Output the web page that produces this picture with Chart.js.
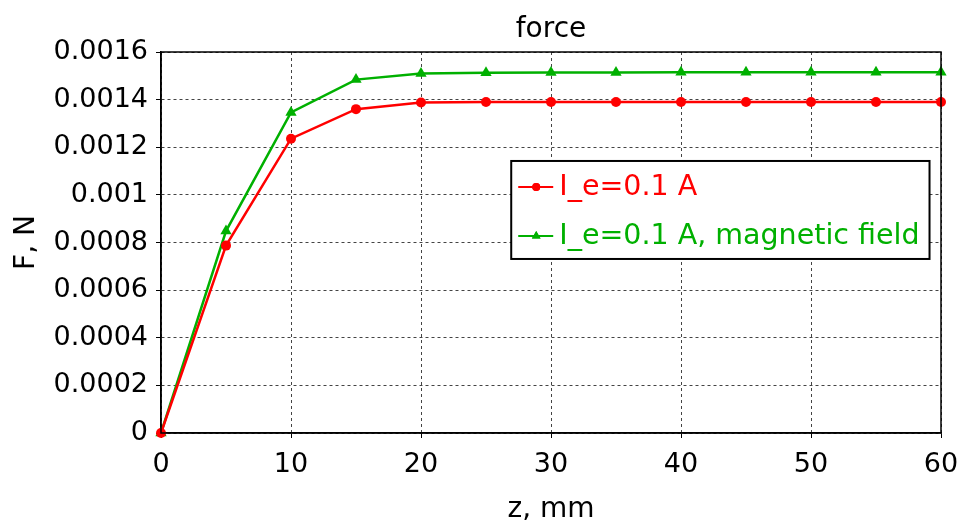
<!DOCTYPE html>
<html><head><meta charset="utf-8">
<script src="https://cdn.jsdelivr.net/npm/chart.js@4"></script>
<style>html,body{margin:0;padding:0;background:#fff}#wrap{width:962px;height:524px}</style>
</head><body><div id="wrap"><canvas id="c" width="962" height="524"></canvas></div>
<script>
const zValues = [0, 5, 10, 15, 20, 25, 30, 35, 40, 45, 50, 55, 60];
const forceSeries = [0, 0.000787, 0.001236, 0.001360, 0.001388, 0.00139, 0.00139, 0.00139, 0.00139, 0.00139, 0.00139, 0.00139, 0.00139];
const forceMagSeries = [0, 0.000848, 0.001346, 0.001484, 0.001510, 0.001513, 0.001514, 0.001514, 0.001515, 0.001515, 0.001515, 0.001515, 0.001515];
const seriesNames = ['I_e=0.1 A', 'I_e=0.1 A, magnetic field'];
const yTickLabels = ['0', '0.0002', '0.0004', '0.0006', '0.0008', '0.001', '0.0012', '0.0014', '0.0016'];
const xTickLabels = ['0', '10', '20', '30', '40', '50', '60'];
const chartTitle = 'force';
const xTitle = 'z, mm';
const yTitle = 'F, N';

const RED = '#ff0000', GREEN = '#00b000';
const FONT = 'DejaVu Sans';

const framePlugin = {
  id: 'frame',
  afterDatasetsDraw(chart) {
    const {ctx, chartArea: a} = chart;
    ctx.save();
    ctx.strokeStyle = '#000'; ctx.lineWidth = 1.5;
    ctx.strokeRect(a.left, a.top, a.right - a.left, a.bottom - a.top);
    ctx.restore();
  },
  afterDraw(chart) {
    const {ctx, chartArea: a} = chart;
    ctx.save();
    // title centred over the plot area
    ctx.fillStyle = '#000';
    ctx.font = '28px "' + FONT + '"';
    ctx.textAlign = 'center'; ctx.textBaseline = 'alphabetic';
    ctx.fillText(chartTitle, (a.left + a.right) / 2, a.top - 15);
    // legend
    const items = [
      {text: seriesNames[0], color: RED, style: 'circle'},
      {text: seriesNames[1], color: GREEN, style: 'triangle'}
    ];
    ctx.font = '28.5px "' + FONT + '"';
    let maxW = 0;
    items.forEach(it => maxW = Math.max(maxW, ctx.measureText(it.text).width));
    const x0 = a.left + (a.right - a.left) * 0.449;
    const y0 = a.top + (a.bottom - a.top) * 0.286;
    const w = 48 + maxW + 10;
    const h = 98;
    ctx.fillStyle = '#fff';
    ctx.fillRect(x0, y0, w, h);
    ctx.strokeStyle = '#000'; ctx.lineWidth = 2;
    ctx.strokeRect(x0, y0, w, h);
    items.forEach((it, i) => {
      const cy = y0 + 26 + i * 49;
      ctx.strokeStyle = it.color; ctx.lineWidth = 2;
      ctx.beginPath(); ctx.moveTo(x0 + 7, cy); ctx.lineTo(x0 + 42, cy); ctx.stroke();
      ctx.fillStyle = it.color;
      Chart.helpers.drawPoint(ctx, {pointStyle: it.style, radius: it.style === 'circle' ? 4 : 5, rotation: 0, borderWidth: 0}, x0 + 25, cy);
      ctx.fill();
      ctx.textBaseline = 'middle'; ctx.textAlign = 'left';
      ctx.fillText(it.text, x0 + 48, cy + 1);
    });
    ctx.restore();
  }
};

new Chart(document.getElementById('c'), {
  type: 'line',
  data: {
    datasets: [
      {label: seriesNames[0], data: zValues.map((z, i) => ({x: z, y: forceSeries[i]})),
       borderColor: RED, backgroundColor: RED, borderWidth: 2.5, pointStyle: 'circle', pointRadius: 5, pointBorderWidth: 0, clip: false, tension: 0},
      {label: seriesNames[1], data: zValues.map((z, i) => ({x: z, y: forceMagSeries[i]})),
       borderColor: GREEN, backgroundColor: GREEN, borderWidth: 2.5, pointStyle: 'triangle', pointRadius: 6.5, pointBorderWidth: 0, clip: false, tension: 0}
    ]
  },
  options: {
    responsive: false, animation: false, devicePixelRatio: 1,
    layout: {padding: {left: 0, right: 21, top: 52, bottom: 0}},
    plugins: {
      legend: {display: false}, tooltip: {enabled: false}, title: {display: false}
    },
    scales: {
      x: {
        type: 'linear', min: 0, max: 60,
        afterFit(s) { s.height = 91; s.paddingLeft = 0; s.paddingRight = 0; },
        ticks: {stepSize: 10, color: '#000', font: {family: FONT, size: 27}, padding: 11, maxRotation: 0,
                callback: (v, i) => xTickLabels[i]},
        grid: {color: '#444', lineWidth: 1, tickLength: 5, tickColor: '#000', tickBorderDash: []},
        border: {color: '#000', width: 1.5, dash: [3, 3]},
        title: {display: true, text: xTitle, color: '#000', font: {family: FONT, size: 28}, padding: {top: 0, bottom: -3}}
      },
      y: {
        min: 0, max: 0.0016,
        afterFit(s) { s.width = 161; s.paddingTop = 0; s.paddingBottom = 0; },
        ticks: {stepSize: 0.0002, color: '#000', font: {family: FONT, size: 27}, padding: 8,
                callback: (v, i) => yTickLabels[i]},
        grid: {color: '#444', lineWidth: 1, tickLength: 5, tickColor: '#000', tickBorderDash: []},
        border: {color: '#000', width: 1.5, dash: [3, 3]},
        title: {display: true, text: yTitle, color: '#000', font: {family: FONT, size: 28}, padding: {top: 10, bottom: 0}}
      }
    }
  },
  plugins: [framePlugin]
});
</script>
</body></html>
